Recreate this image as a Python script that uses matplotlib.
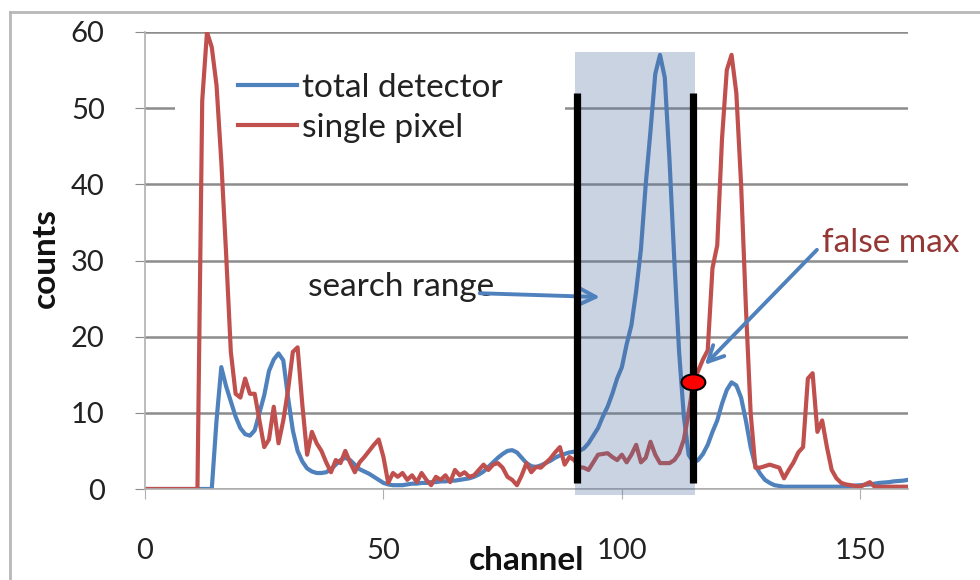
import matplotlib
matplotlib.use('Agg')
import matplotlib.pyplot as plt
from matplotlib.patches import Ellipse, Rectangle
from matplotlib.lines import Line2D
import numpy as np

# spectra, one value per channel 0..160
channel = np.arange(161)

total_detector = [
    0, 0, 0, 0, 0, 0, 0, 0, 0, 0, 0, 0, 0, 0, 0,
    9, 16, 13.5, 11.5, 9.5, 8, 7.2, 7, 7.7, 10,
    12.3, 15.5, 17, 17.8, 16.9, 12, 7.7, 5, 3.6, 2.7,
    2.3, 2.1, 2.1, 2.2, 2.6, 3.2, 3.8, 4.1, 3.8, 3.2,
    2.6, 2.3, 2.0, 1.6, 1.2, 0.8, 0.6, 0.5, 0.5, 0.5,
    0.6, 0.7, 0.7, 0.8, 0.8, 0.9, 0.9, 1.0, 1.0, 1.1,
    1.1, 1.2, 1.3, 1.4, 1.6, 1.9, 2.3, 2.9, 3.5, 4.1,
    4.6, 5.0, 5.1, 4.8, 4.1, 3.4, 3.0, 2.9, 3.1, 3.4,
    3.7, 4.1, 4.4, 4.6, 4.8, 4.9, 5.0, 5.3, 6.0, 7.0,
    8.0, 9.5, 10.8, 12.5, 14.5, 16, 19, 21.5, 26, 31.5,
    40, 47, 54.5, 57, 54, 43, 30, 18, 9.5, 4.5,
    3.5, 3.8, 4.6, 5.8, 7.5, 9, 11.2, 13, 14, 13.6,
    12, 9, 5.5, 3, 2, 1.2, 0.8, 0.5, 0.4, 0.3,
    0.3, 0.3, 0.3, 0.3, 0.3, 0.3, 0.3, 0.3, 0.3, 0.3,
    0.3, 0.3, 0.3, 0.4, 0.45, 0.5, 0.55, 0.6, 0.7, 0.8,
    0.85, 0.9, 1.0, 1.05, 1.1, 1.2,
]

single_pixel = [
    0, 0, 0, 0, 0, 0, 0, 0, 0, 0, 0, 0,
    51, 60, 58, 53, 43, 31, 18, 12.5, 12, 14.5, 12.5, 12.5,
    9, 5.5, 6.5, 10.8, 6, 9, 13, 18, 18.6, 11, 4.5, 7.5,
    6, 5, 3.5, 2.2, 3.8, 3.4, 5, 3.5, 2.2, 3.5, 4.2, 5,
    5.8, 6.5, 4.2, 0.8, 2.1, 1.6, 2.1, 1.2, 1.8, 0.9, 2.1, 1.2,
    0.5, 1.6, 1.2, 1.8, 0.9, 2.5, 1.8, 2.2, 1.6, 1.8, 2.5, 3.2,
    2.5, 3.2, 3.4, 2.8, 1.6, 1.2, 0.5, 1.8, 3.4, 2.2, 2.9, 2.8,
    3.4, 4.0, 4.8, 5.5, 3.2, 4.2, 3.8, 2.9, 2.8, 2.5, 3.5, 4.5,
    4.6, 4.7, 4.2, 3.8, 4.5, 3.5, 4.5, 5.8, 3.5, 4.1, 6.2, 4.5,
    3.4, 3.4, 3.4, 3.8, 4.7, 6.5, 10, 14, 15.5, 17, 18.2, 29,
    32, 46, 55, 57, 52, 40, 24, 10, 2.8, 2.8, 3, 3.2,
    3, 2.8, 1.4, 2.5, 3.5, 4.8, 5.5, 14.5, 15.2, 7.5, 9, 5.5,
    2.5, 1.4, 0.8, 0.6, 0.5, 0.4, 0.3, 0.6, 0.9, 0.3, 0.3, 0.3,
    0.3, 0.3, 0.3, 0.3, 0.3,
]

search_lo, search_hi = 90.6, 114.9   # channel window searched for the peak
false_max_ch = 115

BLUE = '#4f81bd'
RED = '#c0504d'
GRID = '#8c8c8c'
TXT = '#222222'

plt.rcParams['font.family'] = ['Lato', 'DejaVu Sans']

fig = plt.figure(figsize=(9.8, 5.8), dpi=100)
ax = fig.add_axes([145 / 980, 1 - 489 / 580, 763 / 980, 457 / 580])
ax.set_axisbelow(True)

ax.plot(channel, total_detector, color=BLUE, lw=3, label='total detector', zorder=2)
ax.plot(channel, single_pixel, color=RED, lw=3, label='single pixel', zorder=2)

ax.set_xlim(0, 160)
ax.set_ylim(0, 60)
ax.set_xticks([0, 50, 100, 150])
ax.set_yticks(range(0, 61, 10))
ax.grid(axis='y', color=GRID, lw=1.8)
for s in ['top', 'right']:
    ax.spines[s].set_visible(False)
for s in ['left', 'bottom']:
    ax.spines[s].set_color('#b0b0b0')
    ax.spines[s].set_linewidth(1.2)
ax.tick_params(axis='x', length=7, color='#b0b0b0', pad=28)
ax.tick_params(axis='y', length=7, color=GRID, pad=22)
for lab in ax.get_xticklabels() + ax.get_yticklabels():
    lab.set_fontsize(21)
    lab.set_color(TXT)

# white box behind the legend hides the gridline
ax.add_patch(Rectangle((0.039, 0.74), 0.511, 0.19, transform=ax.transAxes,
                       facecolor='white', edgecolor='none', zorder=1))
leg = ax.legend(loc='upper left', bbox_to_anchor=(0.105, 0.94), frameon=False,
                fontsize=24, handlelength=1.75, handletextpad=0.15,
                labelspacing=0.3, borderaxespad=0)
for t in leg.get_texts():
    t.set_color(TXT)

# search window
ax.add_patch(Rectangle((search_lo - 0.4, -0.8), search_hi - search_lo + 0.8, 58.2,
                       facecolor='#4f6fa0', alpha=0.3, edgecolor='none',
                       zorder=3, clip_on=False))
for xs in (search_lo, search_hi):
    ax.plot([xs, xs], [0.8, 52], color='black', lw=5.2, zorder=4,
            solid_capstyle='butt')

ax.add_patch(Ellipse((false_max_ch, single_pixel[false_max_ch]), 5.0, 2.1,
                     facecolor='#ff0000', edgecolor='black', lw=1.5, zorder=5))

arrow = dict(arrowstyle='->', color=BLUE, lw=2.8, mutation_scale=28,
             shrinkA=0, shrinkB=0)
ax.text(34.2, 26.5, 'search range', fontsize=24, color=TXT,
        va='center', ha='left', zorder=3)
ax.annotate('', xy=(95.4, 25.2), xytext=(70.2, 25.7), arrowprops=arrow, zorder=3.5)
ax.text(142, 32.3, 'false max', fontsize=24, color='#953735',
        va='center', ha='left', zorder=3, clip_on=False)
ax.annotate('', xy=(117.4, 16.3), xytext=(140.9, 31.4), arrowprops=arrow, zorder=3.5)

fig.text(527 / 980, 1 - 560 / 580, 'channel', fontsize=24, fontweight='bold',
         ha='center', va='center', color='#111111')
fig.text(45 / 980, 1 - 258 / 580, 'counts', fontsize=24, fontweight='bold',
         rotation=90, ha='center', va='center', color='#111111')

# outer chart frame
fig.add_artist(Line2D([10 / 980, 1], [1 - 12 / 580, 1 - 12 / 580],
                      color='#b8b8b8', lw=2))
fig.add_artist(Line2D([10 / 980, 10 / 980], [0, 1 - 12 / 580],
                      color='#b8b8b8', lw=2))

fig.savefig('out.png', dpi=100)
